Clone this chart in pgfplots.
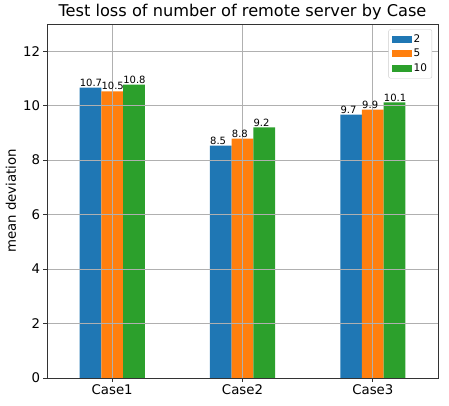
\documentclass[border=0pt]{standalone}
\usepackage{pgfplots}
\pgfplotsset{compat=1.18}
\usepackage{fontspec}
\setmainfont{DejaVu Sans}
\definecolor{c1}{HTML}{1F77B4}
\definecolor{c2}{HTML}{FF7F0E}
\definecolor{c3}{HTML}{2CA02C}
\begin{document}
\begin{tikzpicture}[x=1pt,y=1pt]
\path[use as bounding box] (-47,-27) rectangle (402,378);
\begin{axis}[
  at={(0,0)}, anchor=south west,
  scale only axis, width=391pt, height=354pt,
  xmin=-0.5, xmax=2.5, ymin=0, ymax=13,
  xtick={0,1,2}, xticklabels={Case1,Case2,Case3},
  ytick={0,2,4,6,8,10,12},
  /pgf/number format/assume math mode=true,
  tick label style={font=\fontsize{13.3}{15}\selectfont},
  ylabel={mean deviation},
  ylabel style={font=\fontsize{13.3}{15}\selectfont},
  title={Test loss of number of remote server by Case},
  title style={font=\fontsize{16.2}{19}\selectfont, yshift=-5.5pt},
  ybar=0pt, bar width=0.16667,
  grid=major, grid style={color=black!31, line width=0.8pt},
  axis on top,
  axis line style={color=black!80, line width=0.8pt},
  major tick length=3.5pt, tick style={color=black!80, line width=0.8pt},
  tick align=outside, xtick pos=bottom, ytick pos=left,
  legend style={at={(0.985,0.985)}, anchor=north east, font=\fontsize{10.5}{12}\selectfont,
    draw=black!20, rounded corners=2pt, row sep=1.5pt, inner sep=3pt},
  legend cell align=left,
  legend image code/.code={\fill[#1, sharp corners] (0pt,-3.5pt) rectangle (20pt,3.5pt);},
  nodes near coords={\pgfmathprintnumber[fixed,precision=1]{\pgfplotspointmeta}},
  every node near coord/.append style={font=\fontsize{10}{12}\selectfont, anchor=south west, inner sep=0pt, xshift=-10.8pt, yshift=1pt, color=black},
]
\addplot[fill=c1, draw=none] coordinates {(0,10.66) (1,8.53) (2,9.67)};
\addplot[fill=c2, draw=none] coordinates {(0,10.53) (1,8.79) (2,9.86)};
\addplot[fill=c3, draw=none] coordinates {(0,10.77) (1,9.20) (2,10.12)};
\legend{2,5,10}
\end{axis}
\end{tikzpicture}
\end{document}
